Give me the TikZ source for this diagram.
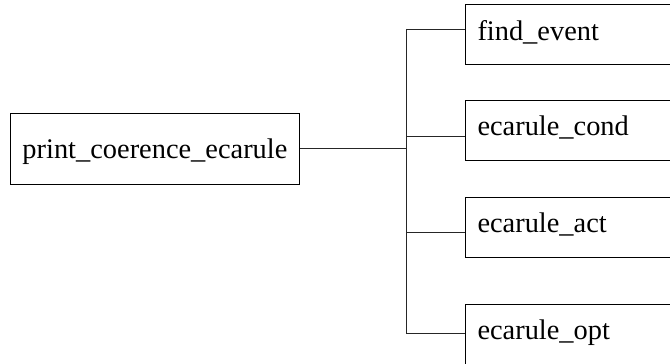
\documentclass[tikz,border=0pt]{standalone}
\usepackage{fontspec}
\setmainfont{Liberation Serif}
\tikzset{callbox/.style = {draw, line width=0.7pt, inner xsep=0.3cm, font=\fontsize{20.2}{24}\selectfont}}
\tikzset{leftbox/.style = {callbox, minimum height=1.775cm, text height=1.3em, text depth=0pt}}
\tikzset{rightbox/.style = {callbox, anchor=north west, minimum height=1.5cm, text width=5.5cm, align=left, text height=0.95em, text depth=0.18em}}
\tikzset{wire/.style = {line width=0.7pt, black!85}}

\begin{document}
\begin{tikzpicture}
    % Page frame
    \useasboundingbox (0,0) rectangle (16.75,-9.1);
    \clip (0,0) rectangle (16.75,-9.1);

    % Caller
    \node[leftbox, anchor=north west] (caller) at (0.25,-2.825) {print\_coerence\_ecarule};

    % Callees
    \node[rightbox] (find) at (11.625,-0.1125) {find\_event};
    \node[rightbox] (cond) at (11.625,-2.5) {ecarule\_cond};
    \node[rightbox] (act)  at (11.625,-4.925) {ecarule\_act};
    \node[rightbox] (opt)  at (11.625,-7.6) {ecarule\_opt};

    % Trunk
    \coordinate (top) at (10.15,-0.725);
    \coordinate (jcond) at (10.15,-3.4);
    \coordinate (jact) at (10.15,-5.8);
    \coordinate (bot) at (10.15,-8.325);
    \draw[wire] (caller.east) -- (caller.east -| top);
    \draw[wire] (top) -- (bot);

    % Branches
    \draw[wire] (top) -- (top -| find.west);
    \draw[wire] (jcond) -- (jcond -| cond.west);
    \draw[wire] (jact) -- (jact -| act.west);
    \draw[wire] (bot) -- (bot -| opt.west);
\end{tikzpicture}
\end{document}
